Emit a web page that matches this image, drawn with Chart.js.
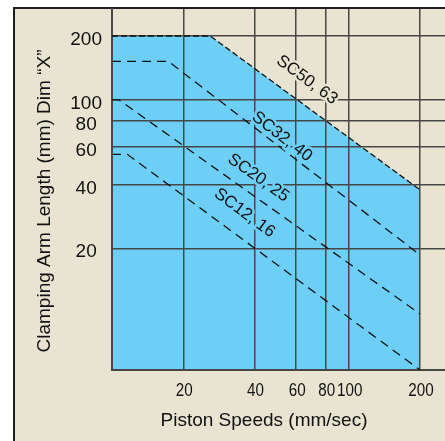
<!DOCTYPE html>
<html>
<head>
<meta charset="utf-8">
<script src="https://cdn.jsdelivr.net/npm/chart.js@4/dist/chart.umd.min.js"></script>
<style>
  html, body { margin: 0; padding: 0; background: #ffffff; }
  #wrap { position: relative; width: 445px; height: 441px; overflow: hidden; }
  #frame { position: absolute; left: 13px; top: 7px; right: 0; bottom: 0;
           background: #e8e4d1; border-left: 2px solid #1e1e1e; border-top: 2px solid #1e1e1e; }
  #chart { position: absolute; left: 0; top: 0; }
</style>
</head>
<body>
<div id="wrap">
  <div id="frame"></div>
  <canvas id="chart" width="445" height="441"></canvas>
</div>
<script>
// axes
const x_ticks = [20, 40, 60, 80, 100, 200];
const y_ticks = [20, 40, 60, 80, 100, 200];
const x_min = 10, x_max = 255;
const y_min = 5.34, y_max = 268;
const x_title = 'Piston Speeds (mm/sec)';
const y_title = 'Clamping Arm Length (mm) Dim \u201CX\u201D';

// curves (speed mm/sec, arm length mm)
const series_names = ['SC50, 63', 'SC32, 40', 'SC20, 25', 'SC12, 16'];
const sc50_speed = [10, 26, 200];
const sc50_length = [200, 200, 37.7];
const sc32_speed = [10, 17.3, 200];
const sc32_length = [152, 152, 18.6];
const sc20_speed = [10, 10.7, 200];
const sc20_length = [100, 100, 9.8];
const sc12_speed = [10, 11.6, 200];
const sc12_length = [55.4, 55.4, 5.34];

// where the curve names sit
const label_speed = [66.6, 52.2, 41.5, 36.3];
const label_length = [124, 67.1, 42.9, 29.3];

const beige = '#e8e4d1';
const blue = '#6dcff6';
const grid_color = '#474747';
const text_color = '#111111';

function to_points(xs, ys)
{
    return xs.map((x, i) => ({x: x, y: ys[i]}));
}

function make_dataset(name, xs, ys, dash, fill)
{
    return {
        label: name,
        data: to_points(xs, ys),
        borderColor: text_color,
        borderWidth: 1.3,
        borderDash: dash,
        pointRadius: 0,
        fill: fill ? 'start' : false,
        backgroundColor: blue,
        tension: 0
    };
}

// no extra room for labels, the plot area is placed by hand
function fix_box(s, size)
{
    if (s.isHorizontal()) s.height = size; else s.width = size;
    s.paddingTop = 0;
    s.paddingBottom = 0;
    s.paddingLeft = 0;
    s.paddingRight = 0;
}

// text drawn on top: narrow x tick labels, axis titles and the curve names
const text_plugin = {
    id: 'text_plugin',
    afterDraw(chart)
    {
        const ctx = chart.ctx;
        const xs = chart.scales.x;
        const ys = chart.scales.y;
        ctx.save();
        ctx.fillStyle = text_color;
        ctx.textAlign = 'center';
        ctx.textBaseline = 'middle';

        // x tick labels are set in a condensed face in the original
        ctx.font = '19px "Liberation Sans", Arial, sans-serif';
        x_ticks.forEach(v => {
            ctx.save();
            ctx.translate(xs.getPixelForValue(v) + 1, xs.top + 21);
            ctx.scale(0.8, 1);
            ctx.fillText(String(v), 0, 0);
            ctx.restore();
        });

        ctx.fillText(x_title, 264, 421);
        ctx.save();
        ctx.translate(45, 201);
        ctx.rotate(-Math.PI / 2);
        ctx.fillText(y_title, 0, 0);
        ctx.restore();

        ctx.font = '17px "Liberation Sans", Arial, sans-serif';
        ctx.lineJoin = 'round';
        series_names.forEach((name, i) => {
            const pts = chart.getDatasetMeta(i).data;
            const a = pts[1], b = pts[2];
            const angle = Math.atan2(b.y - a.y, b.x - a.x);
            const px = xs.getPixelForValue(label_speed[i]);
            const py = ys.getPixelForValue(label_length[i]);
            ctx.save();
            ctx.translate(px, py);
            ctx.rotate(angle);
            ctx.lineWidth = 5;
            ctx.strokeStyle = i === 0 ? beige : blue;
            ctx.strokeText(name, 0, 0);
            ctx.fillText(name, 0, 0);
            ctx.restore();
        });
        ctx.restore();
    }
};

new Chart(document.getElementById('chart'), {
    type: 'line',
    data: {
        datasets: [
            make_dataset(series_names[0], sc50_speed, sc50_length, [6, 3], true),
            make_dataset(series_names[1], sc32_speed, sc32_length, [9, 6], false),
            make_dataset(series_names[2], sc20_speed, sc20_length, [9, 6], false),
            make_dataset(series_names[3], sc12_speed, sc12_length, [9, 6], false)
        ]
    },
    options: {
        responsive: false,
        animation: false,
        layout: { padding: { left: 0, top: 9, right: 0, bottom: 0 } },
        plugins: {
            legend: { display: false },
            tooltip: { enabled: false },
            filler: { drawTime: 'beforeDraw' }
        },
        scales: {
            x: {
                type: 'logarithmic',
                min: x_min,
                max: x_max,
                afterBuildTicks: s => { s.ticks = x_ticks.map(v => ({value: v})); },
                afterFit: s => fix_box(s, 71),
                grid: { color: grid_color, lineWidth: 1.5, drawTicks: false },
                border: { color: grid_color, width: 2 },
                ticks: { display: false }
            },
            y: {
                type: 'logarithmic',
                min: y_min,
                max: y_max,
                afterBuildTicks: s => { s.ticks = y_ticks.map(v => ({value: v})); },
                afterFit: s => fix_box(s, 112),
                grid: { color: grid_color, lineWidth: 1.5, drawTicks: false },
                border: { color: grid_color, width: 2 },
                ticks: {
                    color: text_color,
                    padding: 10,
                    crossAlign: 'center',
                    labelOffset: 4,
                    autoSkip: false,
                    font: { family: '"Liberation Sans", Arial', size: 19 },
                    callback: v => String(v)
                }
            }
        }
    },
    plugins: [text_plugin]
});
</script>
</body>
</html>
